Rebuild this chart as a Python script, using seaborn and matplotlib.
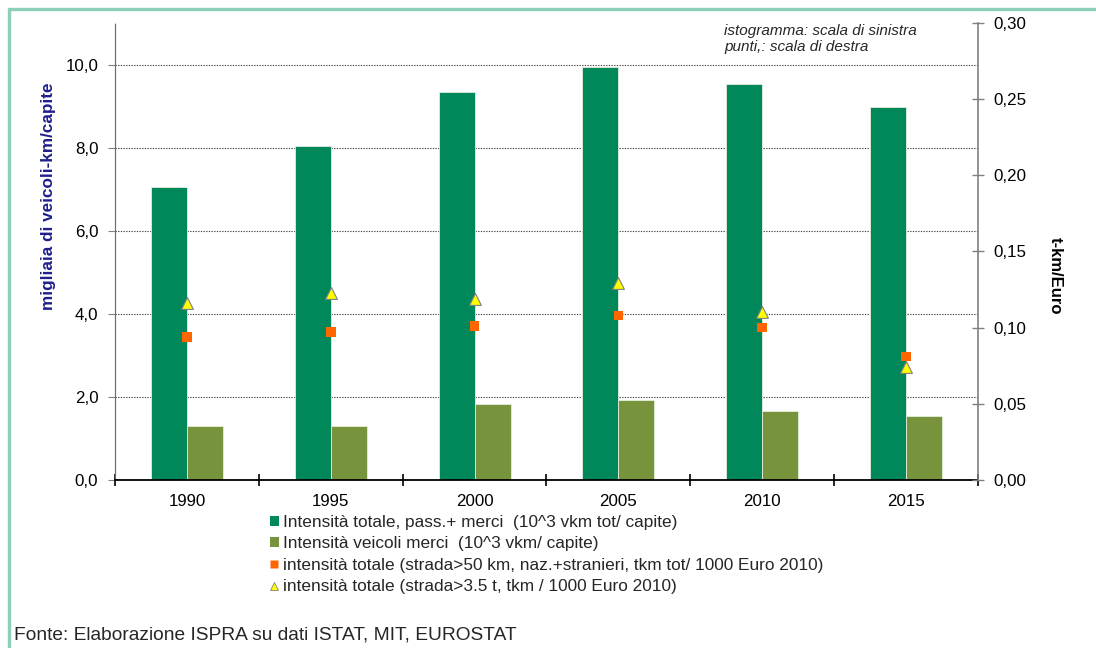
import numpy as np
import pandas as pd
import matplotlib
matplotlib.use("Agg")
import matplotlib.pyplot as plt
import seaborn as sns
from matplotlib.lines import Line2D
from matplotlib.patches import Patch
from matplotlib.ticker import FuncFormatter, FixedLocator

# Road transport intensity, Italy
years = ["1990", "1995", "2000", "2005", "2010", "2015"]
total_vkm = [7.05, 8.03, 9.33, 9.93, 9.54, 8.99]        # 10^3 vkm tot / capita
freight_vkm = [1.31, 1.30, 1.83, 1.92, 1.66, 1.54]      # 10^3 vkm / capita
road50_tkm = [0.094, 0.097, 0.101, 0.108, 0.100, 0.081]  # tkm / 1000 Euro 2010
heavy_tkm = [0.116, 0.123, 0.119, 0.129, 0.110, 0.074]   # tkm / 1000 Euro 2010

series_labels = [
    "Intensità totale, pass.+ merci  (10^3 vkm tot/ capite)",
    "Intensità veicoli merci  (10^3 vkm/ capite)",
    "intensità totale (strada>50 km, naz.+stranieri, tkm tot/ 1000 Euro 2010)",
    "intensità totale (strada>3.5 t, tkm / 1000 Euro 2010)",
]
left_ticks = [0, 2, 4, 6, 8, 10]
right_ticks = [0.0, 0.05, 0.10, 0.15, 0.20, 0.25, 0.30]

GREEN = "#00875A"
OLIVE = "#77933C"
ORANGE = "#FF6600"
YELLOW = "#FFFF00"
NAVY = "#1F1F8C"
FRAME = "#8CCFB6"

sns.set_theme(style="white")
plt.rcParams["font.family"] = ["Liberation Sans", "DejaVu Sans"]

W, H = 1096, 648
fig = plt.figure(figsize=(W / 100, H / 100), dpi=100)
fig.patch.set_facecolor("white")
ax = fig.add_axes([115 / W, 1 - 480 / H, (978 - 115) / W, (480 - 23) / H])

bars = pd.DataFrame({
    "year": years * 2,
    "value": total_vkm + freight_vkm,
    "series": [series_labels[0]] * len(years) + [series_labels[1]] * len(years),
})
sns.barplot(data=bars, x="year", y="value", hue="series",
            palette=[GREEN, OLIVE], width=0.5, saturation=1,
            edgecolor="#E4EEDD", linewidth=0.6, legend=False, ax=ax)

n = len(years)
ax.set_xlim(-0.5, n - 0.5)
ax.set_ylim(0, 11)
ax.set_xlabel("")
ax.set_ylabel("migliaia di veicoli-km/capite", fontsize=12.3, fontweight="bold",
              color=NAVY, va="center")
ax.yaxis.set_label_coords(-0.077, 0.62)

# left scale
ax.yaxis.set_major_locator(FixedLocator(left_ticks))
ax.yaxis.set_major_formatter(FuncFormatter(lambda v, p: f"{v:.1f}".replace(".", ",")))
ax.tick_params(axis="y", which="major", left=True, length=5, width=0.8,
               color="#808080", labelsize=12.2, pad=7, labelcolor="black")
ax.yaxis.grid(True, linestyle=(0, (1.2, 1.2)), color="#444444", linewidth=0.8)
ax.xaxis.grid(False)
ax.set_axisbelow(True)

# category axis: ticks at boundaries, labels at centres
ax.xaxis.set_major_locator(FixedLocator(np.arange(n + 1) - 0.5))
ax.xaxis.set_major_formatter(FuncFormatter(lambda v, p: ""))
ax.xaxis.set_minor_locator(FixedLocator(np.arange(n)))
ax.xaxis.set_minor_formatter(FuncFormatter(lambda v, p: years[int(round(v))]))
ax.tick_params(axis="x", which="major", bottom=True, direction="inout",
               length=8, width=1.2, color="black")
ax.tick_params(axis="x", which="minor", bottom=True, length=0, labelsize=12.2,
               pad=10, labelcolor="black")

for side in ("top", "right"):
    ax.spines[side].set_visible(False)
ax.spines["left"].set_linestyle((0, (1, 1)))
ax.spines["left"].set_color("#707070")
ax.spines["left"].set_linewidth(0.9)
ax.spines["bottom"].set_color("black")
ax.spines["bottom"].set_linewidth(1.3)

# right scale for the points
ax2 = ax.twinx()
ax2.set_ylim(0, 0.30)
pos = np.arange(n)
sns.scatterplot(x=pos, y=road50_tkm, marker="s", color=ORANGE, s=48,
                edgecolor="none", ax=ax2, zorder=4)
sns.scatterplot(x=pos, y=heavy_tkm, marker="^", color=YELLOW, s=72,
                edgecolor="#808080", linewidth=0.8, ax=ax2, zorder=4)
ax2.set_xlim(-0.5, n - 0.5)
ax2.yaxis.set_major_locator(FixedLocator(right_ticks))
ax2.yaxis.set_major_formatter(FuncFormatter(lambda v, p: f"{v:.2f}".replace(".", ",")))
ax2.tick_params(axis="y", right=True, direction="inout", length=8.5, width=1,
                color="#808080", labelsize=12.2, pad=7, labelcolor="black")
ax2.grid(False)
for side in ("top", "left", "bottom"):
    ax2.spines[side].set_visible(False)
ax2.spines["right"].set_color("#808080")
ax2.spines["right"].set_linewidth(1.2)
ax2.set_ylabel("t-km/Euro", fontsize=12, fontweight="bold", color="black",
               rotation=270, va="center")
ax2.yaxis.set_label_coords(1.089, 0.446)

# legend below the plot
handles = [
    Patch(facecolor=GREEN, edgecolor="none"),
    Patch(facecolor=OLIVE, edgecolor="none"),
    Line2D([], [], linestyle="none", marker="s", markersize=5.5,
           markerfacecolor=ORANGE, markeredgecolor="none"),
    Line2D([], [], linestyle="none", marker="^", markersize=6,
           markerfacecolor=YELLOW, markeredgecolor="#808080", markeredgewidth=0.6),
]
fig.legend(handles, series_labels, loc="upper left",
           bbox_to_anchor=(270 / W, 1 - 515 / H), frameon=False,
           fontsize=12.4, handlelength=0.5, handleheight=0.5,
           handletextpad=0.25, labelspacing=0.37, borderpad=0,
           borderaxespad=0)

# scale notes
fig.text(724 / W, 1 - 31 / H, "istogramma: scala di sinistra", fontsize=11,
         style="italic", va="center", ha="left")
fig.text(724 / W, 1 - 47 / H, "punti,: scala di destra", fontsize=11,
         style="italic", va="center", ha="left")

# source
fig.text(14 / W, 1 - 635 / H, "Fonte: Elaborazione ISPRA su dati ISTAT, MIT, EUROSTAT",
         fontsize=13.8, va="center", ha="left")

# panel frame (left and top edges)
fig.add_artist(Line2D([8.5 / W, 8.5 / W], [0, 1 - 9 / H], color=FRAME,
                      linewidth=2.4, transform=fig.transFigure))
fig.add_artist(Line2D([8.5 / W, 1], [1 - 9 / H, 1 - 9 / H], color=FRAME,
                      linewidth=2.4, transform=fig.transFigure))

fig.savefig("out.png", dpi=100)
